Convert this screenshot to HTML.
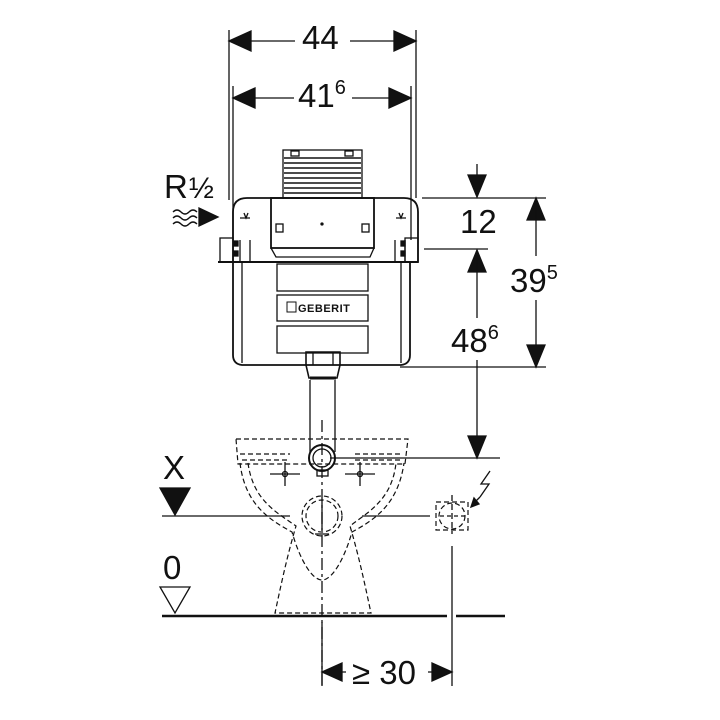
<!DOCTYPE html>
<html><head><meta charset="utf-8"><style>html,body{margin:0;background:#fff}svg{display:block}</style></head>
<body>
<svg width="720" height="720" viewBox="0 0 720 720" xmlns="http://www.w3.org/2000/svg" font-family="Liberation Sans, sans-serif">
<g stroke="#111" fill="none" stroke-width="1.3">
<line x1="229" y1="30" x2="229" y2="200"/><line x1="416" y1="30" x2="416" y2="198"/>
<line x1="233" y1="86" x2="233" y2="240"/><line x1="411" y1="86" x2="411" y2="240"/>
<path d="M229,41H295M350,41H416"/>
<path d="M229,41l22,-10v20z M416,41l-22,-10v20z" fill="#111"/>
<path d="M233,98H294M352,98H411"/>
<path d="M233,98l22,-10v20z M411,98l-22,-10v20z" fill="#111"/>
<rect x="283" y="150" width="79" height="48"/>
<g stroke-width="1.6"><path d="M284,158H361M284,163H361M284,168H361M284,173H361M284,178H361M284,183H361M284,188H361M284,193H361"/></g>
<rect x="291" y="151" width="8" height="5"/><rect x="345" y="151" width="8" height="5"/>
<path d="M233,262V212q0,-14 14,-14H404q14,0 14,14V262z" stroke-width="1.8"/>
<rect x="271" y="198" width="103" height="50" stroke-width="1.8"/>
<path d="M271,248L276,257H370L374,248"/>
<rect x="276" y="224" width="7" height="8"/><rect x="362" y="224" width="7" height="8"/>
<circle cx="322" cy="224" r="1" fill="#111"/>
<path d="M240,218H250M244,213l2,5 2,-5M396,218H406M399,213l2,5 2,-5"/>
<path d="M240,240V262M250,240V262M395,240V262M405,240V262"/>
<rect x="220" y="238" width="13" height="24"/><rect x="405" y="238" width="13" height="24"/>
<g fill="#111"><rect x="234" y="241" width="4" height="5"/><rect x="234" y="251" width="4" height="5"/><rect x="401" y="241" width="4" height="5"/><rect x="401" y="251" width="4" height="5"/></g>
<path d="M233,262V355q0,9 9,10H401q9,-1 9,-10V262" stroke-width="1.8"/>
<line x1="218" y1="262" x2="418" y2="262" stroke-width="2"/>
<path d="M242,262V363M401,262V363"/>
<rect x="277" y="264" width="91" height="27"/><rect x="277" y="295" width="91" height="26"/><rect x="277" y="326" width="91" height="27"/>
<rect x="287" y="302" width="9" height="10" stroke-width="1"/>
<path d="M306,365V352H340V365L337,378H309z" stroke-width="1.6"/>
<path d="M313,352V365M333,352V365"/>
<line x1="310" y1="378" x2="336" y2="378" stroke-width="3"/>
<path d="M310,380V452M335,380V452"/>
<circle cx="322" cy="458" r="13" stroke-width="2"/><circle cx="322" cy="458" r="9"/>
<rect x="317" y="470" width="11" height="6"/>
<line x1="422" y1="198" x2="546" y2="198"/>
<line x1="424" y1="249" x2="488" y2="249"/>
<line x1="400" y1="367" x2="546" y2="367"/>
<line x1="330" y1="458" x2="500" y2="458"/>
<line x1="477" y1="164" x2="477" y2="180"/>
<path d="M477,197l-9,-22h18z" fill="#111"/>
<path d="M477,250l-9,22h18z" fill="#111"/>
<line x1="477" y1="260" x2="477" y2="318"/>
<line x1="477" y1="360" x2="477" y2="440"/>
<path d="M477,458l-9,-22h18z" fill="#111"/>
<path d="M536,198l-9,22h18z" fill="#111"/>
<line x1="536" y1="210" x2="536" y2="256"/>
<line x1="536" y1="300" x2="536" y2="355"/>
<path d="M536,367l-9,-22h18z" fill="#111"/>
<path d="M173,212q4,-4 8,0t8,0t8,0M173,218q4,-4 8,0t8,0t8,0M173,224q4,-4 8,0t8,0t8,0"/>
<path d="M218,217l-19,-9v18z" fill="#111"/>
<path d="M160,488H190L175,515z" fill="#111"/>
<path d="M162,516H290M362,516H430"/>
<path d="M160,587H190L175,613z"/>
<line x1="162" y1="616" x2="447" y2="616" stroke-width="2.6"/>
<line x1="456" y1="616" x2="505" y2="616" stroke-width="2.6"/>
<path d="M322,420V686" stroke-dasharray="12,4,3,4"/>
<path d="M452,495V534" stroke-dasharray="6,3"/>
<line x1="452" y1="546" x2="452" y2="686"/>
<line x1="322" y1="622" x2="322" y2="686"/>
<path d="M322,672l20,-9v18z M452,672l-20,-9v18z" fill="#111"/>
<path d="M340,672H346M428,672H434"/>
<g stroke-dasharray="5,3" stroke-width="1.2">
<path d="M236,439H408L405,464H238z"/>
<path d="M240,454H290M355,454H402M242,460H290M355,460H400"/>
<path d="M240,463C245,505 270,520 292,532C300,560 312,580 322,580C332,580 344,560 352,532C374,520 398,505 404,463"/>
<path d="M248,463C253,500 276,512 296,526C286,560 280,590 275,613H371C366,590 360,560 350,526C368,512 392,500 396,463"/>
<circle cx="322" cy="516" r="20"/><circle cx="322" cy="516" r="16"/>
<path d="M436,502H468V530H436z"/>
<circle cx="452" cy="516" r="13"/>
</g>
<path d="M322,500V530M315,534H329"/>
<path d="M270,474H300M285,462V486M345,474H375M360,462V486"/>
<circle cx="285" cy="474" r="2.5"/><circle cx="360" cy="474" r="2.5"/>
<path d="M440,516H466" stroke-dasharray="4,3"/>
<path d="M490,471L481,484H489L480,497"/>
<path d="M480,497l-8,8" />
<path d="M471,507l3,-9 5,6z" fill="#111"/>
</g>
<g fill="#111" font-size="33">
<text x="302" y="49">44</text>
<text x="298" y="107">41<tspan font-size="20" dy="-13">6</tspan></text>
<text x="460" y="233">12</text>
<text x="451" y="352">48<tspan font-size="20" dy="-13">6</tspan></text>
<text x="510" y="292">39<tspan font-size="20" dy="-13">5</tspan></text>
<text x="164" y="198">R<tspan font-size="30" dx="1">½</tspan></text>
<text x="163" y="479">X</text>
<text x="163" y="579">0</text>
<text x="352" y="684">≥ 30</text>
<text x="298" y="312" font-size="11" font-weight="bold" letter-spacing="0.5">GEBERIT</text>
</g>
</svg>
</body></html>
